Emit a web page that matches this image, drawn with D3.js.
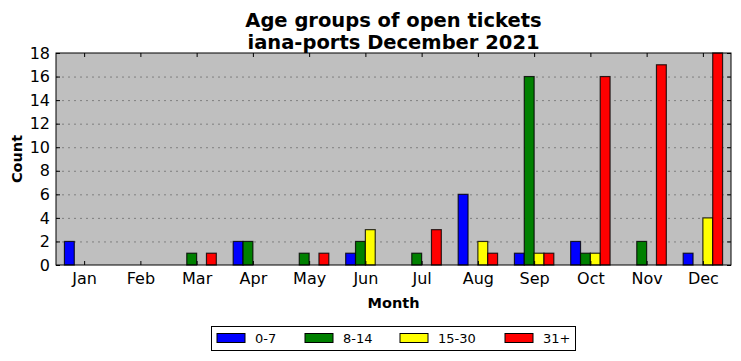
<!DOCTYPE html>
<html><head><meta charset="utf-8">
<script src="https://cdn.jsdelivr.net/npm/d3@7"></script>
<style>body{margin:0;background:#fff}svg{display:block}text{font-family:"DejaVu Sans",sans-serif}</style>
</head><body>
<script>
const months = ["Jan","Feb","Mar","Apr","May","Jun","Jul","Aug","Sep","Oct","Nov","Dec"];
const seriesNames = ["0-7","8-14","15-30","31+"];
const seriesColors = ["#0000ff","#008000","#ffff00","#ff0000"];
const age0_7   = [2,0,0,2,0,1,0,6,1,2,0,1];
const age8_14  = [0,0,1,2,1,2,1,0,16,1,2,0];
const age15_30 = [0,0,0,0,0,3,0,2,1,1,0,4];
const age31    = [0,0,1,0,1,0,3,1,1,16,17,18];
const yTicks = [0,2,4,6,8,10,12,14,16,18];
const seriesValues = [age0_7, age8_14, age15_30, age31];

const W = 741, H = 361;
const m = {l:56, r:731, t:53, b:265};
const svg = d3.select("body").append("svg").attr("width",W).attr("height",H);

const x = d3.scaleLinear().domain([-0.5, 11.5]).range([m.l, m.r]);
const y = d3.scaleLinear().domain([0, 18]).range([m.b, m.t]);
const groupW = 0.7, barW = groupW/4;

svg.append("rect").attr("x",m.l).attr("y",m.t).attr("width",m.r-m.l).attr("height",m.b-m.t).attr("fill","#bfbfbf");

// grid
svg.append("g").selectAll("line").data(yTicks.slice(1,-1)).join("line")
  .attr("x1",m.l).attr("x2",m.r).attr("y1",d=>y(d)+0.5).attr("y2",d=>y(d)+0.5)
  .attr("stroke","#7f7f7f").attr("stroke-width",1).attr("stroke-dasharray","2,4");

// bars
seriesValues.forEach((vals, si) => {
  svg.append("g").selectAll("rect").data(vals).join("rect")
    .attr("x", (d,i) => x(i - groupW/2 + si*barW))
    .attr("width", x(barW) - x(0))
    .attr("y", d => y(d))
    .attr("height", d => y(0) - y(d))
    .attr("fill", seriesColors[si])
    .attr("stroke", "#000").attr("stroke-opacity",0.8).attr("stroke-width",1.2);
});

// frame
svg.append("rect").attr("x",m.l).attr("y",m.t).attr("width",m.r-m.l).attr("height",m.b-m.t)
  .attr("fill","none").attr("stroke","#000").attr("stroke-width",1);

// axes
const xAxisB = d3.axisBottom(x).tickValues(d3.range(12)).tickFormat(i=>months[i]).tickSizeInner(-4).tickSizeOuter(0).tickPadding(8);
const gx = svg.append("g").attr("transform",`translate(0,${m.b})`).call(xAxisB);
const xAxisT = d3.axisTop(x).tickValues(d3.range(12)).tickFormat("").tickSizeInner(-4).tickSizeOuter(0);
const gxt = svg.append("g").attr("transform",`translate(0,${m.t})`).call(xAxisT);
const yAxisL = d3.axisLeft(y).tickValues(yTicks).tickSizeInner(-4).tickSizeOuter(0).tickPadding(6);
const gy = svg.append("g").attr("transform",`translate(${m.l},0)`).call(yAxisL);
const yAxisR = d3.axisRight(y).tickValues(yTicks).tickFormat("").tickSizeInner(-4).tickSizeOuter(0);
const gyr = svg.append("g").attr("transform",`translate(${m.r},0)`).call(yAxisR);
[gx,gxt,gy,gyr].forEach(g=>{g.select(".domain").remove(); g.selectAll("line").attr("stroke","#000");
  g.selectAll("text").attr("font-size",16).attr("fill","#000").attr("font-family","DejaVu Sans, sans-serif");});

// titles
svg.append("text").attr("x",(m.l+m.r)/2).attr("y",27).attr("text-anchor","middle")
  .attr("font-size",19.5).attr("font-weight","bold").text("Age groups of open tickets");
svg.append("text").attr("x",(m.l+m.r)/2).attr("y",49).attr("text-anchor","middle")
  .attr("font-size",19.5).attr("font-weight","bold").text("iana-ports December 2021");
svg.append("text").attr("x",(m.l+m.r)/2).attr("y",308).attr("text-anchor","middle")
  .attr("font-size",14.5).attr("font-weight","bold").text("Month");
svg.append("text").attr("transform",`translate(22,${(m.t+m.b)/2}) rotate(-90)`).attr("text-anchor","middle")
  .attr("font-size",14.5).attr("font-weight","bold").text("Count");

// legend
const lg = svg.append("g");
lg.append("rect").attr("x",211.5).attr("y",326.5).attr("width",364).attr("height",24).attr("fill","#fff").attr("stroke","#000");
const lx = [217,305,400,505];
seriesNames.forEach((n,i)=>{
  lg.append("rect").attr("x",lx[i]).attr("y",333.5).attr("width",28).attr("height",9)
    .attr("fill",seriesColors[i]).attr("stroke","#000");
  lg.append("text").attr("x",lx[i]+38).attr("y",343).attr("font-size",13).text(n);
});
</script>
</body></html>
